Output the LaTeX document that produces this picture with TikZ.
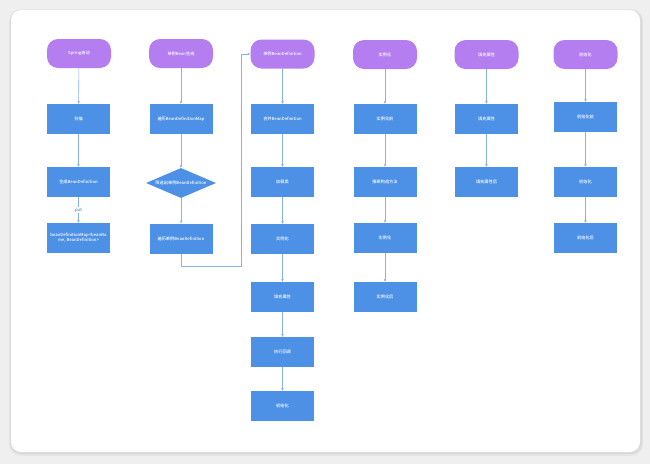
\documentclass[tikz,border=0pt]{standalone}
\usepackage{fontspec}
\newfontfamily\cjk{Noto Sans CJK SC Medium}
\usetikzlibrary{shapes.geometric,arrows.meta}
\definecolor{bgcol}{HTML}{EFEFEF}
\definecolor{termcol}{HTML}{B47EF0}
\definecolor{boxcol}{HTML}{4C91E6}
\definecolor{arrcol}{HTML}{86B3E6}
\definecolor{putcol}{HTML}{5E86BA}
\tikzset{
  term/.style={draw=none,fill=termcol,rounded corners=11pt,minimum width=64pt,minimum height=29pt,inner sep=0pt,text=white,font=\cjk\fontsize{4.2}{5}\selectfont},
  procbox/.style={draw=none,fill=boxcol,minimum width=63pt,minimum height=30pt,inner sep=0pt,text=white,font=\cjk\fontsize{4.2}{5}\selectfont,align=center},
  decis/.style={diamond,aspect=2.33,draw=none,fill=boxcol,minimum width=70pt,minimum height=30pt,inner sep=0pt,text=white,font=\cjk\fontsize{4.2}{5}\selectfont},
  arr/.style={draw=arrcol,line width=0.6pt,-{Stealth[length=3pt,width=2.6pt]}},
  plain/.style={draw=arrcol,line width=0.6pt}
}
\begin{document}
\begin{tikzpicture}[x=1pt,y=-1pt]
\useasboundingbox (0,0) rectangle (650,464);
\fill[bgcol] (0,0) rectangle (650,464);
% card shadow
\fill[black,opacity=0.04,rounded corners=12pt] (9,9) rectangle (643,456);
\fill[black,opacity=0.05,rounded corners=11pt] (10,10) rectangle (642,454);
\fill[white,rounded corners=10pt] (11,10) rectangle (640,452);

% column 1
\node[term] (t1) at (79,53.5) {Spring启动};
\node[procbox] (a2) at (78.5,119) {扫描};
\node[procbox] (a3) at (78.5,182) {生成BeanDefinition};
\node[procbox] (a4) at (78.5,238) {beanDefinitionMap<beanNa\\me, BeanDefinition>};
% column 2
\node[term] (t2) at (181,53.5) {单例Bean生成};
\node[procbox] (b2) at (181,119) {遍历BeanDefinitionMap};
\node[decis] (b3) at (181,183) {筛选出单例BeanDefinition};
\node[procbox] (b4) at (181,238.5) {遍历单例BeanDefinition};
% column 3
\node[term] (t3) at (282.5,54) {单例BeanDefinition};
\node[procbox] (c2) at (282.5,119) {合并BeanDefinition};
\node[procbox] (c3) at (282.5,182) {加载类};
\node[procbox] (c4) at (282.5,239) {实例化};
\node[procbox] (c5) at (282.5,297) {填充属性};
\node[procbox] (c6) at (282.5,352) {执行回调};
\node[procbox] (c7) at (282.5,406) {初始化};
% column 4
\node[term] (t4) at (385,54.5) {实例化};
\node[procbox] (d2) at (385,119) {实例化前};
\node[procbox] (d3) at (385,182) {推断构造方法};
\node[procbox] (d4) at (385,238) {实例化};
\node[procbox] (d5) at (385,297) {实例化后};
% column 5
\node[term] (t5) at (486.5,54.5) {填充属性};
\node[procbox] (e2) at (486.5,119) {填充属性};
\node[procbox] (e3) at (486.5,182) {填充属性后};
% column 6
\node[term] (t6) at (585.5,54.5) {初始化};
\node[procbox] (f2) at (585.5,117) {初始化前};
\node[procbox] (f3) at (585.5,182) {初始化};
\node[procbox] (f4) at (585.5,238) {初始化后};

% connectors
\draw[arr] (t1) -- (a2);
\draw[arr] (a2) -- (a3);
\draw[arr] (a3) -- node[fill=white,inner sep=0.8pt,text=putcol,font=\cjk\fontsize{4.2}{5}\selectfont] {put} (a4);
\draw[arr] (t2) -- (b2);
\draw[arr] (b2) -- (b3);
\draw[arr] (b3) -- (b4);
\coordinate (k1) at (241.5,266);
\draw[arr] (b4.south) |- (k1) |- (t3.west);
\draw[arr] (t3) -- (c2);
\draw[arr] (c2) -- (c3);
\draw[arr] (c3) -- (c4);
\draw[arr] (c4) -- (c5);
\draw[arr] (c5) -- (c6);
\draw[arr] (c6) -- (c7);
\draw[arr] (t4) -- (d2);
\draw[arr] (d2) -- (d3);
\draw[arr] (d3) -- (d4);
\draw[arr] (d4) -- (d5);
\draw[arr] (t5) -- (e2);
\draw[arr] (e2) -- (e3);
\draw[arr] (t6) -- (f2);
\draw[arr] (f2) -- (f3);
\draw[arr] (f3) -- (f4);
\end{tikzpicture}
\end{document}
